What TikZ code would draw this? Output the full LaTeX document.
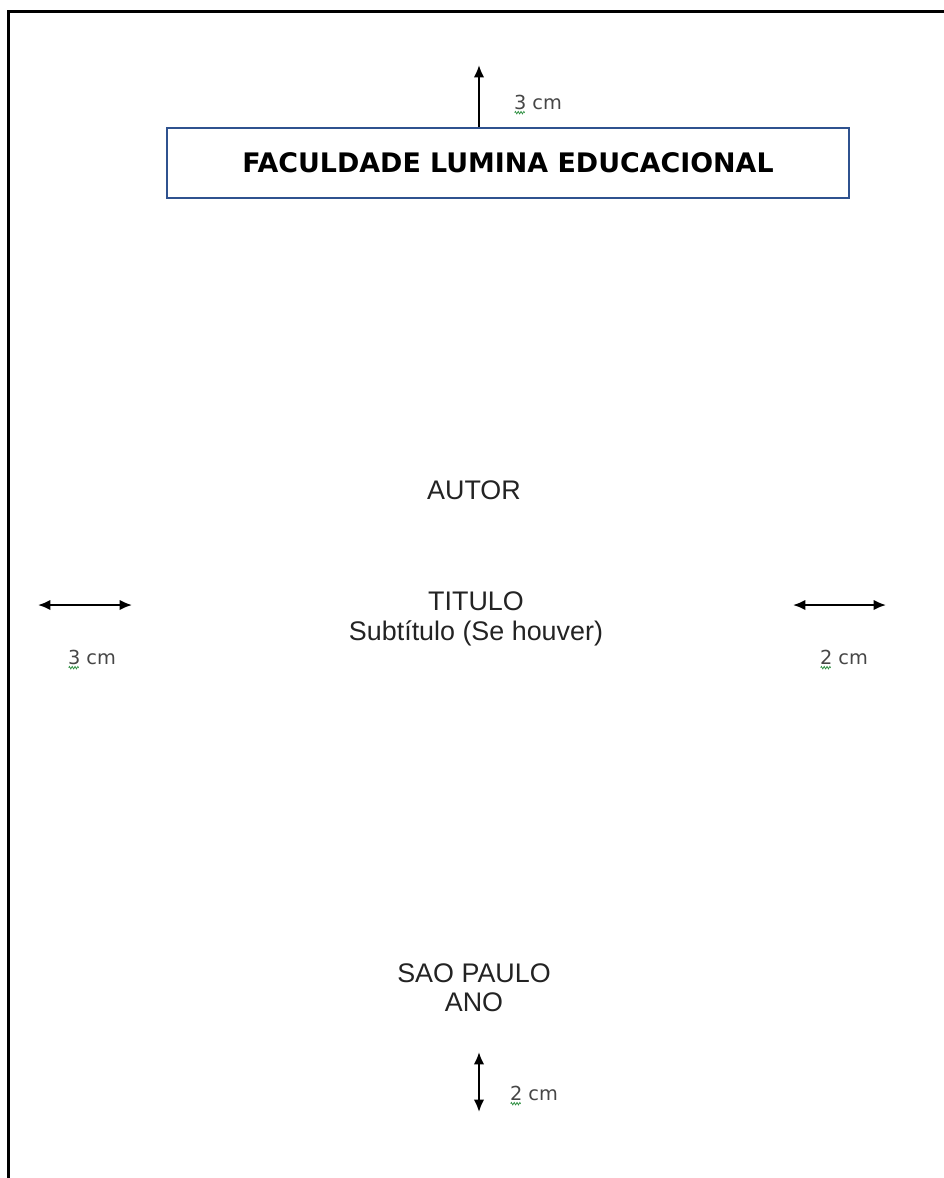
\documentclass[tikz,border=0pt]{standalone}
\usepackage{fontspec}
\setmainfont{Liberation Sans}
\newfontfamily\verdana{DejaVu Sans}
\usetikzlibrary{arrows.meta}
\usetikzlibrary{decorations.pathmorphing}
\definecolor{boxblue}{RGB}{47,82,143}
\definecolor{textgray}{RGB}{35,35,35}
\definecolor{labelgray}{RGB}{70,70,70}
\definecolor{spellgreen}{RGB}{40,140,60}

\begin{document}
\begin{tikzpicture}[x=0.02cm,y=-0.02cm,>={Latex[length=7pt,width=6pt]},
page/.style={line width=1.5pt},
dim/.style={line width=1.2pt},
txt/.style={font=\fontsize{15.3}{18}\selectfont,text=textgray,inner sep=0pt},
lbl/.style={font=\verdana\fontsize{11}{13}\selectfont,text=labelgray,inner sep=0pt},
spell/.style={spellgreen,line width=0.4pt,decorate,decoration={zigzag,amplitude=0.7pt,segment length=1.6pt}}]

\useasboundingbox (0,0) rectangle (944,1178);

% page edge
\draw [page] (8.7,1178) -- (8.7,11.5) -- (944,11.5);

% title box
\node [draw=boxblue,line width=1.1pt,minimum width=13.64cm,minimum height=1.4cm,
  font=\verdana\bfseries\fontsize{15.3}{18}\selectfont] (faculdade) at (508,163) {FACULDADE LUMINA EDUCACIONAL};

% margins
\coordinate (topend) at (479,65);
\coordinate (leftA) at (38,605);
\coordinate (leftB) at (132,605);
\coordinate (rightA) at (793,605);
\coordinate (rightB) at (886,605);
\coordinate (botA) at (479,1052);
\coordinate (botB) at (479,1112);

\draw [dim,->] (topend |- faculdade.north) -- (topend);
\draw [dim,<->] (leftA) -- (leftB);
\draw [dim,<->] (rightA) -- (rightB);
\draw [dim,<->] (botA) -- (botB);

\node [lbl] (mtop) at (538,102) {3 cm};
\node [lbl] (mleft) at (92,657) {3 cm};
\node [lbl] (mright) at (844,657) {2 cm};
\node [lbl] (mbot) at (534,1093) {2 cm};

\foreach \m in {mtop,mleft,mright,mbot}
  \draw [spell] ([shift={(1,3)}]\m.south west) -- ++(10,0);

% texts
\node [txt] (autor) at (474,490) {AUTOR};
\node [txt] (titulo) at (476,601) {TITULO};
\node [txt] (subtitulo) at (476,633) {Subtítulo (Se houver)};
\node [txt] (cidade) at (474,973) {SAO PAULO};
\node [txt] (ano) at (474,1002) {ANO};

\end{tikzpicture}
\end{document}
